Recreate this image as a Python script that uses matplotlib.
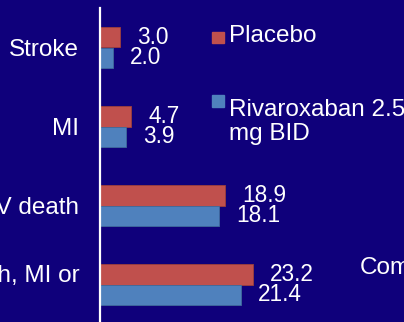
import numpy as np
import matplotlib.pyplot as plt
from matplotlib.patches import Rectangle

plt.rcParams['font.family'] = ['Liberation Sans', 'DejaVu Sans']

# event rates (%) per outcome
categories = ["Stroke", "MI", "CV death", "CV death, MI or\nstroke"]
placebo = [3.0, 4.7, 18.9, 23.2]
rivaroxaban = [2.0, 3.9, 18.1, 21.4]

bg = "#0f007b"
red = "#c0504d"
blue = "#4f81bd"

W, H = 404, 322
fig = plt.figure(figsize=(W / 100, H / 100), dpi=100, facecolor=bg)

# axes start at the zero line and run off the right edge
ax = fig.add_axes([100 / W, 0, 1 - 100 / W, 1])
ax.set_facecolor(bg)
px_per_unit = 6.6
ax.set_xlim(0, (W - 100) / px_per_unit)
ax.set_ylim((H - 47.5) / 79, -47.5 / 79)

y = np.arange(len(categories))
h = 0.26
ax.barh(y - h / 2, placebo, height=h, color=red, edgecolor="#9c3f3c", linewidth=0.6)
ax.barh(y + h / 2, rivaroxaban, height=h, color=blue, edgecolor="#3f6a9c", linewidth=0.6)

for yi, v in zip(y - h / 2, placebo):
    ax.annotate(f"{v:.1f}", (v, yi), xytext=(12.3, 0), textcoords="offset points",
                ha="left", va="center", color="white", fontsize=16.3)
for yi, v in zip(y + h / 2, rivaroxaban):
    ax.annotate(f"{v:.1f}", (v, yi), xytext=(12.3, 0), textcoords="offset points",
                ha="left", va="center", color="white", fontsize=16.3)

# white zero line
ax.plot([0, 0], [-0.5, ax.get_ylim()[0]], color="white", lw=1.6, clip_on=False)

for s in ax.spines.values():
    s.set_visible(False)
ax.set_xticks([])
ax.set_yticks(y)
ax.set_yticklabels(categories, color="white", fontsize=17.5, multialignment="left")
ax.tick_params(axis="y", length=0, pad=15)

# legend
fig.add_artist(Rectangle((212 / W, 1 - 43 / H), 12 / W, 11 / H,
                         transform=fig.transFigure, color=red))
fig.add_artist(Rectangle((212 / W, 1 - 107 / H), 12 / W, 12 / H,
                         transform=fig.transFigure, color=blue))
fig.text(229 / W, 1 - 36 / H, "Placebo", color="white", fontsize=17.5, va="center")
fig.text(229 / W, 1 - 99 / H, "Rivaroxaban 2.5\nmg BID", color="white",
         fontsize=17.5, va="top", linespacing=1.12)

fig.text(360 / W, 1 - 268 / H, "Composite", color="white", fontsize=17.5, va="center")

fig.savefig("out.png", dpi=100, facecolor=bg)
